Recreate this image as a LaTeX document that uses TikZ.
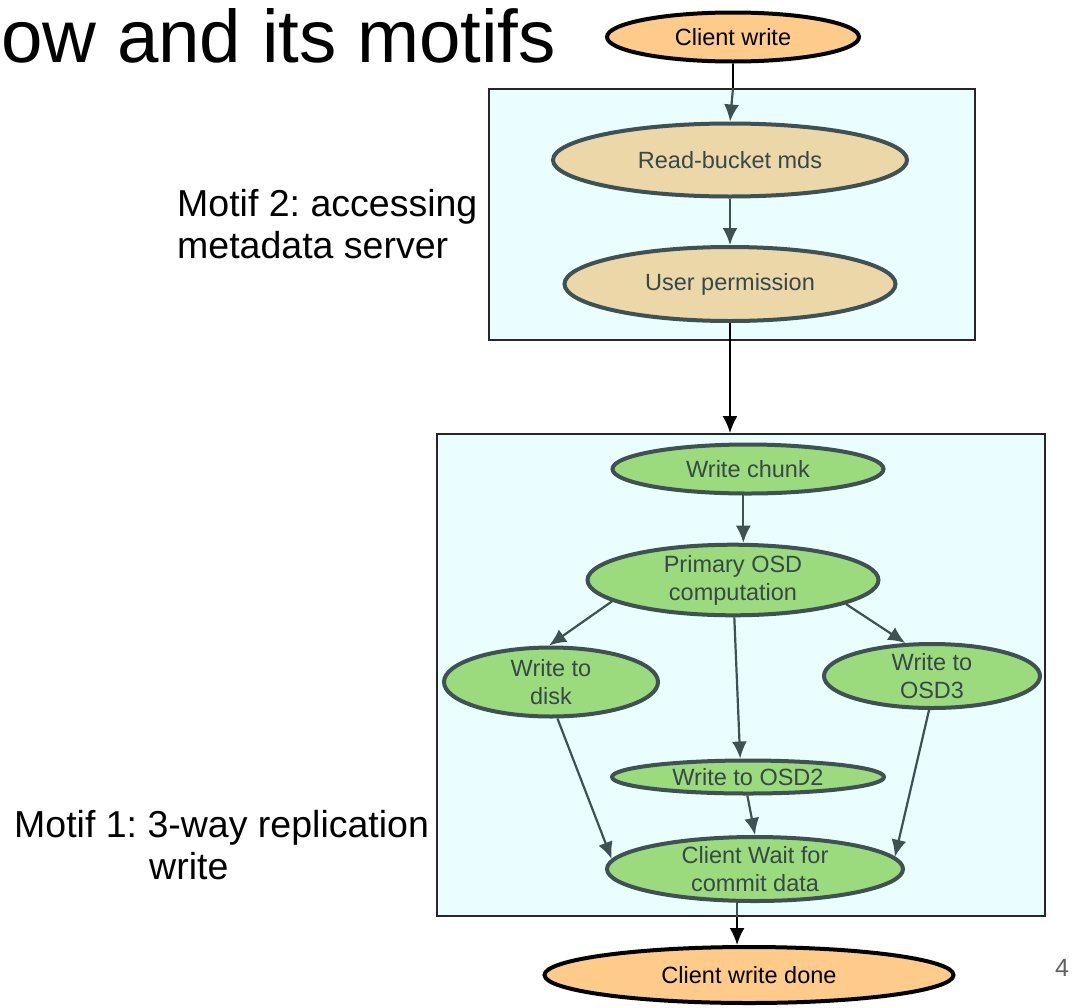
\documentclass[tikz,border=0pt]{standalone}
\usepackage{fontspec}
\setmainfont{Liberation Sans}
\usetikzlibrary{shapes.geometric,arrows.meta}
\definecolor{orangefill}{HTML}{FECB8B}
\definecolor{wheatfill}{HTML}{ECD7A9}
\definecolor{greenfill}{HTML}{9BDB7E}
\definecolor{boxfill}{HTML}{EAFDFF}
\definecolor{darkedge}{HTML}{3F5152}
\definecolor{darktext}{HTML}{364848}
\definecolor{pagenum}{HTML}{606060}
\frenchspacing
\tikzset{
  basenode/.style={ellipse, inner sep=0pt, line width=4pt, align=center,
    font=\fontsize{23.5}{28}\selectfont},
  onode/.style={basenode, draw=black, fill=orangefill, text=black},
  wnode/.style={basenode, draw=darkedge, fill=wheatfill, text=darktext},
  gnode/.style={basenode, draw=darkedge, fill=greenfill, text=darktext},
  boxst/.style={rectangle, draw=black!85, line width=1.8pt, fill=boxfill, inner sep=0pt},
  lbl/.style={inner sep=0pt, align=left, font=\fontsize{37.5}{42}\selectfont},
  darr/.style={draw=darkedge, line width=2.2pt, -{Latex[length=17pt,width=15pt]}},
  dline/.style={draw=darkedge, line width=2.2pt},
  barr/.style={draw=black, line width=2.2pt, -{Latex[length=17pt,width=15pt]}},
  bline/.style={draw=black, line width=2.2pt},
}
\begin{document}
\begin{tikzpicture}[x=1pt,y=-1pt]
\useasboundingbox (0,0) rectangle (1073,1007);

% boxes
\node[boxst, minimum width=486, minimum height=251] (box1) at (732,214.5) {};
\node[boxst, minimum width=608, minimum height=482] (box2) at (741,675) {};

% title and labels
\node[anchor=base west, inner sep=0pt, font=\fontsize{74.5}{88}\selectfont] (title) at (1,62) {ow and its motifs};
\node[lbl, anchor=west] (m2) at (177,224) {Motif 2: accessing\\metadata server};
\node[lbl, anchor=west] (m1) at (14,845) {Motif 1: 3-way replication\\\hspace*{135pt}write};
\node[inner sep=0pt, text=pagenum, font=\fontsize{25}{30}\selectfont] (pg) at (1062,968) {4};

% nodes
\node[onode, minimum width=252, minimum height=49] (cwr) at (733,37) {Client write};
\node[wnode, minimum width=354, minimum height=73] (read) at (730,160) {Read-bucket mds};
\node[wnode, minimum width=331, minimum height=74] (user) at (730,284) {User permission};
\node[gnode, minimum width=271, minimum height=49] (wc) at (748,469) {Write chunk};
\node[gnode, minimum width=291, minimum height=63] (prim) at (733,580) {Primary OSD\\computation};
\node[gnode, minimum width=214, minimum height=69] (disk) at (551,682) {Write to\\disk};
\node[gnode, minimum width=216, minimum height=61] (osd3) at (932,676) {Write to\\OSD3};
\node[gnode, minimum width=272, minimum height=33] (osd2) at (748,777) {Write to OSD2};
\node[gnode, minimum width=296, minimum height=48] (cw) at (755,869) {Client Wait for\\commit data};
\node[onode, minimum width=409, minimum height=56] (done) at (749,975) {Client write done};

% connectors
\draw[bline] (cwr.south) -- (cwr.south |- box1.north);
\draw[darr] (cwr.south |- box1.north) -- (read.north);
\draw[darr] (read.south) -- (user.north);
\draw[barr] (user.south) -- (user.south |- box2.north);
\draw[darr] (wc.-100) -- (wc.-100 |- prim.north);
\draw[darr] (prim.190) -- (disk.93);
\draw[darr] (prim.-12) -- (osd3.129);
\draw[darr] (prim.-88) -- (osd2.113);
\draw[darr] (disk.-80) -- (cw.176);
\draw[darr] (osd2.-92) -- (cw.north);
\draw[darr] (osd3.-95) -- (cw.5);
\draw[dline] (cw.-118) -- (cw.-118 |- box2.south);
\draw[barr] (cw.-118 |- box2.south) -- (cw.-118 |- done.north);
\end{tikzpicture}
\end{document}
